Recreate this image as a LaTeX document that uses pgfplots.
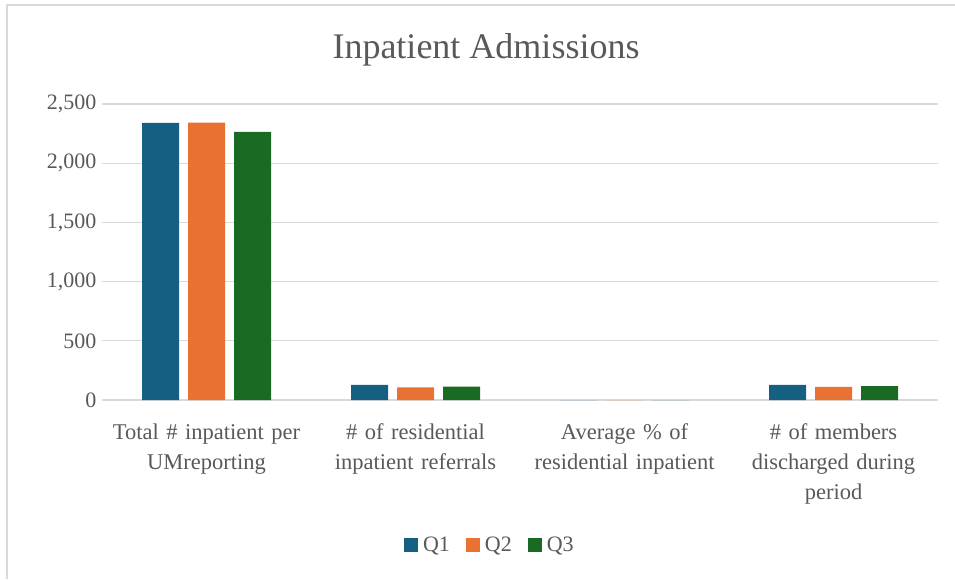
\documentclass[border=0pt]{standalone}
\usepackage{fontspec}
\setmainfont{Liberation Serif}
\usepackage{pgfplots}
\pgfplotsset{compat=1.18}
\definecolor{qone}{HTML}{156082}
\definecolor{qtwo}{HTML}{E97132}
\definecolor{qthree}{HTML}{196B24}
\definecolor{txt}{HTML}{595959}
\definecolor{grd}{HTML}{D9D9D9}
\begin{document}
\begin{tikzpicture}[x=1pt,y=1pt]
\path[use as bounding box] (0,0) rectangle (955,579);
\draw[grd,line width=1.5pt] (7,0) -- (7,574) -- (955,574);
\node[txt,font=\fontsize{36}{40}\selectfont] at (486,529) {Inpatient Admissions};
\begin{axis}[
    at={(102pt,179pt)}, anchor=south west,
    scale only axis,
    width=836pt, height=296pt,
    ybar=9pt, bar width=37pt,
    xmin=-0.5, xmax=3.5,
    ymin=0, ymax=2500,
    ytick={0,500,...,2500},
    xtick={0,1,2,3},
    xticklabels={Total \# inpatient per\\UMreporting,
                 \# of residential\\inpatient referrals,
                 Average \% of\\residential inpatient,
                 \# of members\\discharged during\\period},
    xticklabel style={align=center, text width=215pt, text=txt,
        font=\fontsize{22.5}{30}\selectfont, yshift=-20pt},
    yticklabel style={text=txt, font=\fontsize{22}{24}\selectfont, xshift=-2pt},
    /pgf/number format/assume math mode=true,
    /pgf/number format/1000 sep={,},
    scaled y ticks=false,
    axis line style={draw=none},
    major tick length=0pt,
    ymajorgrids, grid style={grd, line width=1.2pt},
    legend style={at={(0.464,-0.49)}, anchor=center, draw=none,
        legend columns=3, font=\fontsize{22}{24}\selectfont, text=txt,
        /tikz/every odd column/.append style={column sep=3pt},
        /tikz/every even column/.append style={column sep=14pt}},
    legend image code/.code={\fill[#1] (0pt,-7pt) rectangle (14pt,7pt);},
]
\addplot[fill=qone, draw=none] coordinates {(0,2340) (1,127) (2,0) (3,127)};
\addplot[fill=qtwo, draw=none] coordinates {(0,2342) (1,106) (2,0) (3,110)};
\addplot[fill=qthree, draw=none] coordinates {(0,2265) (1,114) (2,0) (3,118)};
\legend{Q1,Q2,Q3}
\end{axis}
\end{tikzpicture}
\end{document}
